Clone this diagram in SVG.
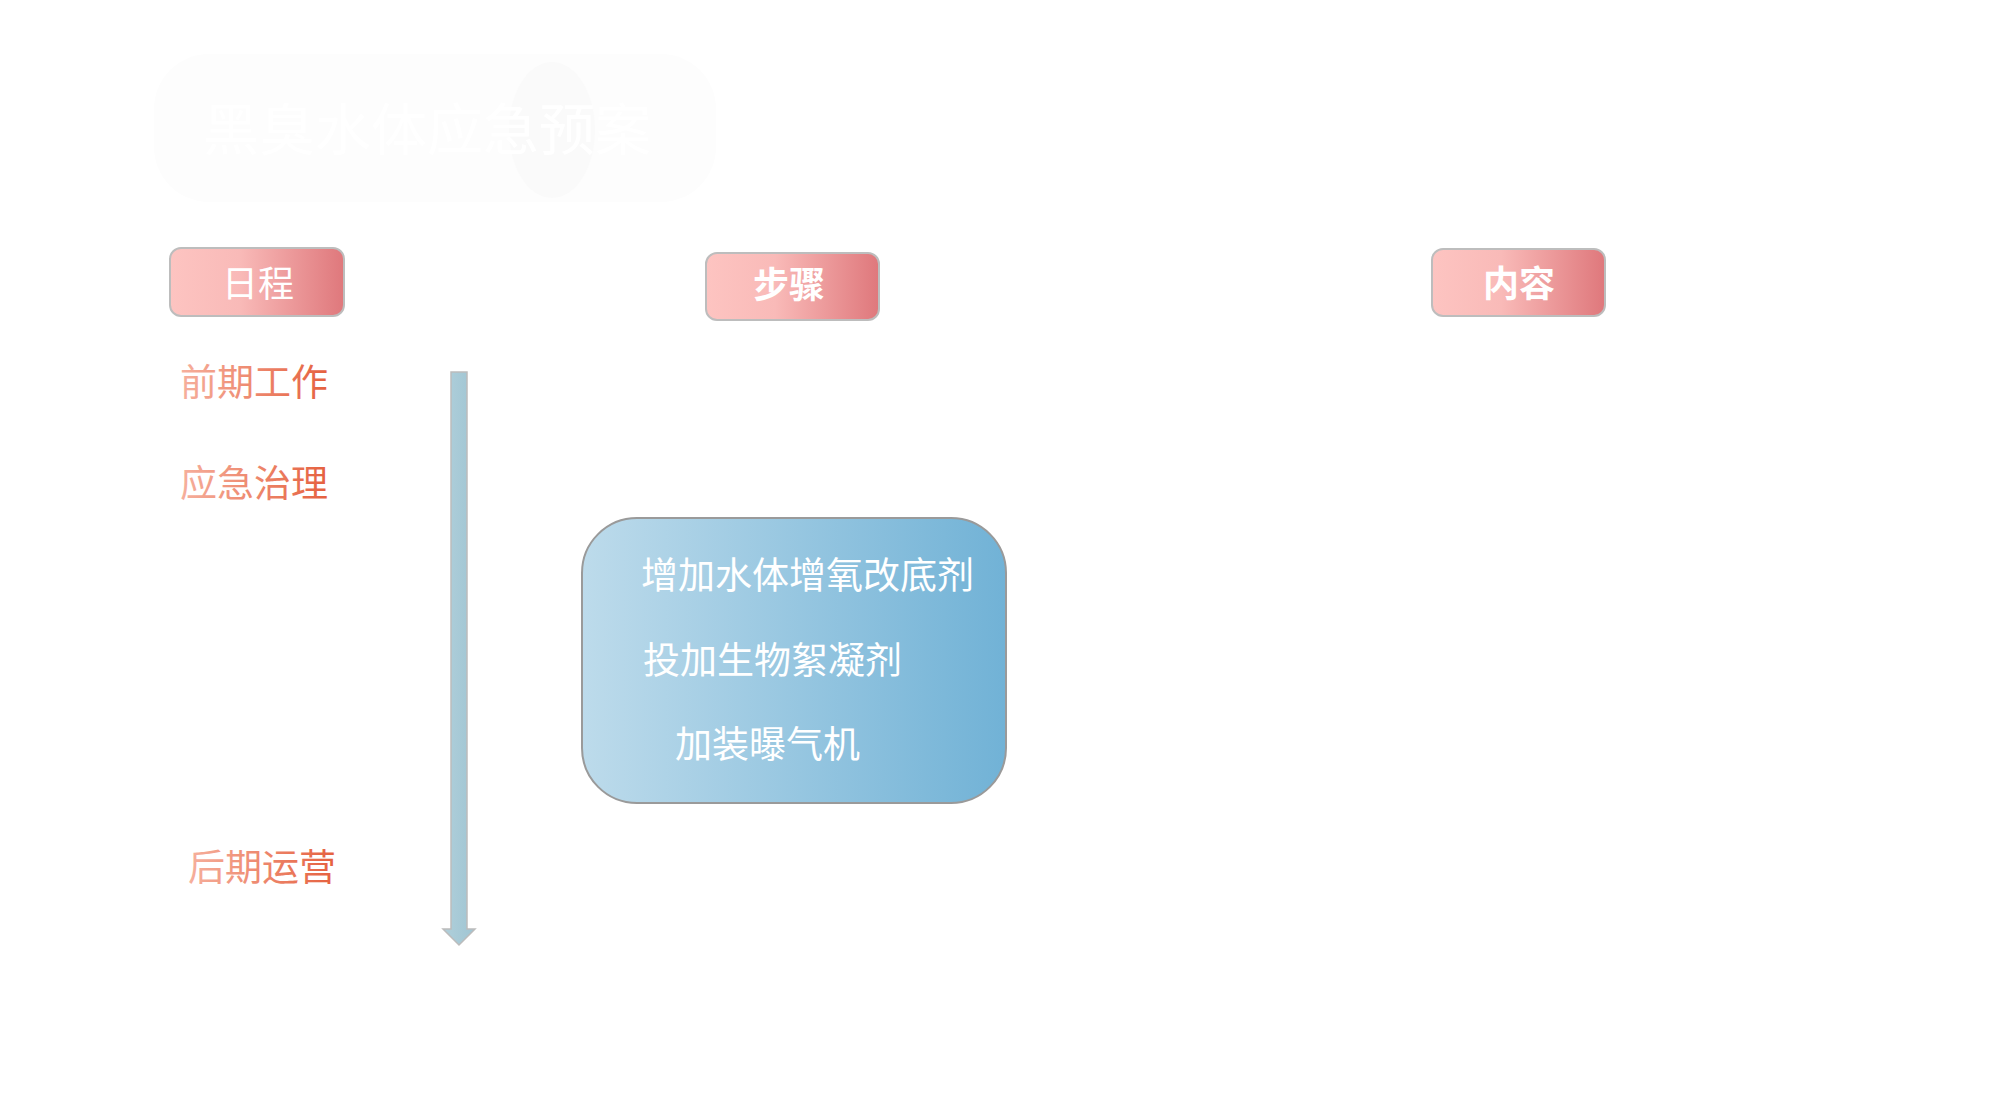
<svg xmlns="http://www.w3.org/2000/svg" width="2004" height="1102" viewBox="0 0 2004 1102">
<defs>
<linearGradient id="pink" x1="0" y1="0" x2="1" y2="0">
<stop offset="0" stop-color="#fdc4c1"/>
<stop offset="0.4" stop-color="#f9bab8"/>
<stop offset="1" stop-color="#df787c"/>
</linearGradient>
<linearGradient id="orange" x1="0" y1="0" x2="1" y2="0">
<stop offset="0" stop-color="#f6b09d"/>
<stop offset="1" stop-color="#e5603e"/>
</linearGradient>
<linearGradient id="blue" x1="0" y1="0" x2="1" y2="0">
<stop offset="0" stop-color="#bddbeb"/>
<stop offset="1" stop-color="#71b2d6"/>
</linearGradient>
<linearGradient id="shaft" x1="0" y1="0" x2="1" y2="0">
<stop offset="0" stop-color="#b0cfda"/>
<stop offset="1" stop-color="#9fc5d3"/>
</linearGradient>
<style>
.hdr{fill:url(#pink);stroke:#bdbdbd;stroke-width:2}
.hdrt{font-family:"Noto Sans CJK SC","Noto Sans",sans-serif;font-size:36px;fill:#ffffff;text-anchor:middle}
.lbl{font-family:"Noto Sans CJK SC","Noto Sans",sans-serif;font-size:37px;fill:url(#orange)}
.item{font-family:"Noto Sans CJK SC","Noto Sans",sans-serif;font-size:37px;fill:#ffffff}
</style>
</defs>
<rect width="2004" height="1102" fill="#ffffff"/>
<g id="title">
<rect x="154" y="54" width="562" height="148" rx="55" fill="#fdfdfd"/>
<ellipse cx="552" cy="130" rx="43" ry="68" fill="#fafafa"/>
<text x="427" y="150" font-family="'Noto Sans CJK SC',sans-serif" font-size="56" fill="#ffffff" text-anchor="middle">黑臭水体应急预案</text>
</g>
<g id="header-schedule">
<rect class="hdr" x="170" y="248" width="174" height="68" rx="11"/>
<text class="hdrt" x="258" y="297">日程</text>
</g>
<g id="header-steps">
<rect class="hdr" x="706" y="253" width="173" height="67" rx="11"/>
<text class="hdrt" x="789" y="298" font-weight="bold">步骤</text>
</g>
<g id="header-content">
<rect class="hdr" x="1432" y="249" width="173" height="67" rx="11"/>
<text class="hdrt" x="1519" y="297" font-weight="bold">内容</text>
</g>
<g id="phase-1"><text class="lbl" x="180" y="396">前期工作</text></g>
<g id="phase-2"><text class="lbl" x="180" y="497">应急治理</text></g>
<g id="phase-3"><text class="lbl" x="188" y="881">后期运营</text></g>
<g id="connectors">
<path d="M451,372 L467,372 L467,929 L475,929 L459,945 L443,929 L451,929 Z" fill="url(#shaft)" stroke="#bcbcbc" stroke-width="1.5"/>
</g>
<g id="emergency-steps">
<rect x="582" y="518" width="424" height="285" rx="55" fill="url(#blue)" stroke="#9a9a9a" stroke-width="2"/>
<text class="item" x="641" y="589">增加水体增氧改底剂</text>
<text class="item" x="643" y="674">投加生物絮凝剂</text>
<text class="item" x="675" y="758">加装曝气机</text>
</g>
</svg>
